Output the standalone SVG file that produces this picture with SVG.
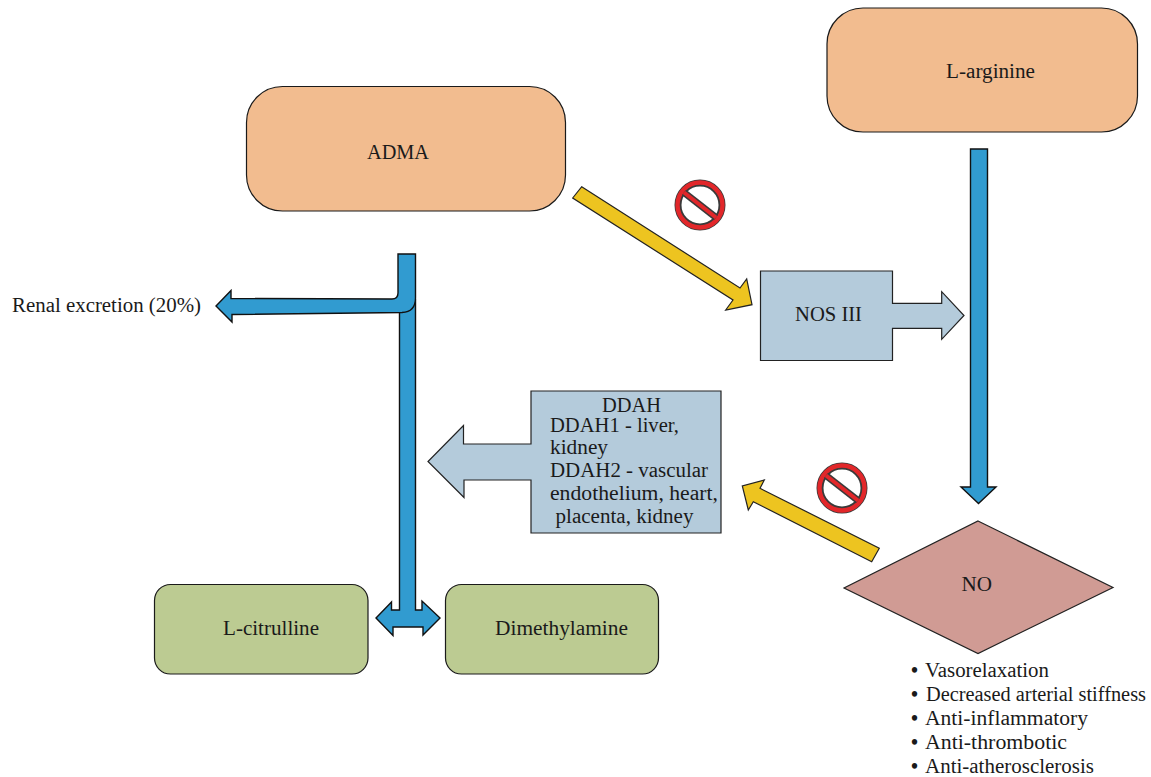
<svg xmlns="http://www.w3.org/2000/svg" width="1151" height="777" viewBox="0 0 1151 777">
<style>
text{font-family:"Liberation Serif","Times New Roman",serif;font-size:20px;fill:#1a1a1a}
.d{font-weight:bold}
.o{fill:#f2bc8f;stroke:#1a1a1a;stroke-width:1.2}
.g{fill:#bccb92;stroke:#1a1a1a;stroke-width:1.2}
.b{fill:#b4cbdb;stroke:#222;stroke-width:1.2}
.a{fill:#319bd0;stroke:#111;stroke-width:1.4}
.y{fill:#edc420;stroke:#222;stroke-width:1.2}
.c{fill:#fff;stroke:#3a3a3a;stroke-width:7}
.r{fill:none;stroke:#e2272a;stroke-width:4.4}
.s{stroke:#3a3a3a;stroke-width:7}
.t{stroke:#e2272a;stroke-width:4}
</style>
<rect width="1151" height="777" fill="#fff"/>
<g id="connectors">
<path class="a" d="M399.500 300V610H391.500V602L376 618L393 635.500V627H423V635L440 618L422 601V610H415.500V300Z"/>
<path class="a" d="M398 254H415.500V298Q415.500 312 402 312.500L232 314.500V322L216 306L231 290.500V298.500L392 299Q398 299 398 293Z"/>
<path class="a" d="M970.500 149H987.500V487H996L978.500 503.500L961 487H970.500Z"/>
<path class="y" d="M581.700 186.700L740 288L746.700 279L752 304.700L725.700 310L733 300L572.700 198Z"/>
<path class="y" d="M879.300 548.300L871.700 561.700L753.300 501.700L748.300 510L742.300 486L764.300 480L760 488.300Z"/>
</g>
<g id="adma"><rect class="o" x="246.500" y="86.500" width="319" height="124.500" rx="36"/><text x="367" y="159" textLength="62" lengthAdjust="spacingAndGlyphs">ADMA</text></g>
<g id="l-arginine"><rect class="o" x="827" y="8" width="310.500" height="124" rx="36"/><text x="946" y="78" textLength="89" lengthAdjust="spacingAndGlyphs">L-arginine</text></g>
<g id="nos-iii"><path class="b" d="M760.500 271H892.500V303.300H941.700V291.700L964 315.500L941.700 339.300V328.300H892.500V360.500H760.500Z"/><text x="795" y="320.500" textLength="67" lengthAdjust="spacingAndGlyphs">NOS III</text></g>
<g id="ddah"><path class="b" d="M531 391H721V533H531V480H464V497.500L428 461.500L463.500 425.500V444H531Z"/>
<text x="602" y="411.500" textLength="59" lengthAdjust="spacingAndGlyphs">DDAH</text>
<text x="550" y="431.500" textLength="129" lengthAdjust="spacingAndGlyphs">DDAH1 - liver,</text>
<text x="550" y="454" textLength="58" lengthAdjust="spacingAndGlyphs">kidney</text>
<text x="550" y="477" textLength="158" lengthAdjust="spacingAndGlyphs">DDAH2 - vascular</text>
<text x="550" y="500" textLength="168" lengthAdjust="spacingAndGlyphs">endothelium, heart,</text>
<text x="555.500" y="523" textLength="138" lengthAdjust="spacingAndGlyphs">placenta, kidney</text></g>
<g id="no"><path d="M978 521L1113 587.500L978 653.500L844 588Z" fill="#d09b94" stroke="#222" stroke-width="1.2"/><text x="961.500" y="591" textLength="30.500" lengthAdjust="spacingAndGlyphs">NO</text></g>
<g id="l-citrulline"><rect class="g" x="154.500" y="584.500" width="213.500" height="89.500" rx="16"/><text x="223" y="635" textLength="96" lengthAdjust="spacingAndGlyphs">L-citrulline</text></g>
<g id="dimethylamine"><rect class="g" x="445.500" y="584.500" width="213" height="89.500" rx="16"/><text x="495" y="635" textLength="133" lengthAdjust="spacingAndGlyphs">Dimethylamine</text></g>
<g id="renal"><text x="12" y="312" textLength="189" lengthAdjust="spacingAndGlyphs">Renal excretion (20%)</text></g>
<g id="effects">
<text x="911" y="677"><tspan class="d">•</tspan><tspan x="925" textLength="124" lengthAdjust="spacingAndGlyphs">Vasorelaxation</tspan></text>
<text x="911" y="701"><tspan class="d">•</tspan><tspan x="926" textLength="220" lengthAdjust="spacingAndGlyphs">Decreased arterial stiffness</tspan></text>
<text x="911" y="725"><tspan class="d">•</tspan><tspan x="925" textLength="163" lengthAdjust="spacingAndGlyphs">Anti-inflammatory</tspan></text>
<text x="911" y="749"><tspan class="d">•</tspan><tspan x="925" textLength="142" lengthAdjust="spacingAndGlyphs">Anti-thrombotic</tspan></text>
<text x="911" y="772.500"><tspan class="d">•</tspan><tspan x="925" textLength="169" lengthAdjust="spacingAndGlyphs">Anti-atherosclerosis</tspan></text>
</g>
<g id="inhibit-1"><circle class="c" cx="700" cy="205" r="22"/><circle class="r" cx="700" cy="205" r="22.500"/><path class="s" d="M684 192.500L716 217.500"/><path class="t" d="M684 192.500L716 217.500"/></g>
<g id="inhibit-2"><circle class="c" cx="842" cy="488" r="22"/><circle class="r" cx="842" cy="488" r="22.500"/><path class="s" d="M826 475.500L858 500.500"/><path class="t" d="M826 475.500L858 500.500"/></g>
</svg>
